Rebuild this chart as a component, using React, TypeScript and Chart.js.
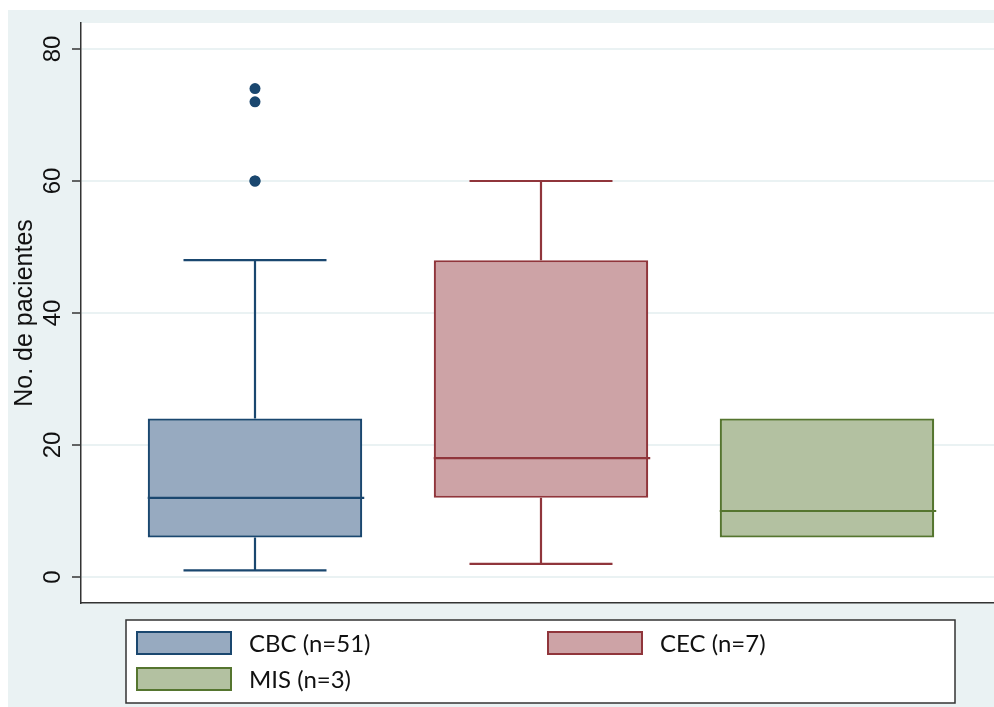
import React, { useEffect, useRef } from 'react';
import { Chart, registerables } from 'chart.js';

Chart.register(...registerables);

const groups = ['CBC (n=51)', 'CEC (n=7)', 'MIS (n=3)'];
const positions = [0, 1, 2];
const q1 = [6, 12, 6];
const medians = [12, 18, 10];
const q3 = [24, 48, 24];
const whiskerLow = [1, 2, 6];
const whiskerHigh = [48, 60, 24];
const outlierGroup = [0, 0, 0, 0];
const outlierValues = [60, 60, 72, 74];
const yTicks = [0, 20, 40, 60, 80];
const yTitle = 'No. de pacientes';
const lineColors = ['#1a476f', '#90353b', '#55752f'];
const fillColors = ['#97aac0', '#cda3a6', '#b3c1a1'];

const W = 994;
const H = 707;

const boxPlugin = {
  id: 'boxExtras',
  beforeDraw(chart: any) {
    const { ctx, chartArea: a, width, height } = chart;
    ctx.save();
    ctx.fillStyle = '#ffffff';
    ctx.fillRect(0, 0, width, height);
    ctx.fillStyle = '#eaf2f3';
    ctx.fillRect(8, 10, width - 8, height - 10);
    ctx.fillStyle = '#ffffff';
    ctx.fillRect(a.left, a.top, a.right - a.left, a.bottom - a.top);
    ctx.restore();
  },
  beforeDatasetsDraw(chart: any) {
    const { ctx } = chart;
    const meta = chart.getDatasetMeta(0);
    const ys = chart.scales.y;
    ctx.save();
    ctx.lineWidth = 2.2;
    meta.data.forEach((bar: any, i: number) => {
      const cx = bar.x;
      const w = bar.width;
      ctx.strokeStyle = lineColors[i];
      const segs: [number, number][] = [
        [q3[i], whiskerHigh[i]],
        [q1[i], whiskerLow[i]],
      ];
      segs.forEach(([from, to]) => {
        if (from === to) return;
        const p1 = ys.getPixelForValue(from);
        const p2 = ys.getPixelForValue(to);
        ctx.beginPath();
        ctx.moveTo(cx, p1);
        ctx.lineTo(cx, p2);
        ctx.moveTo(cx - w / 3, p2);
        ctx.lineTo(cx + w / 3, p2);
        ctx.stroke();
      });
    });
    ctx.restore();
  },
  afterDatasetsDraw(chart: any) {
    const { ctx } = chart;
    const meta = chart.getDatasetMeta(0);
    const ys = chart.scales.y;
    ctx.save();
    ctx.lineWidth = 2.2;
    meta.data.forEach((bar: any, i: number) => {
      const py = ys.getPixelForValue(medians[i]);
      ctx.strokeStyle = lineColors[i];
      ctx.beginPath();
      ctx.moveTo(bar.x - bar.width / 2, py);
      ctx.lineTo(bar.x + bar.width / 2 + 2, py);
      ctx.stroke();
    });
    ctx.restore();
  },
  afterDraw(chart: any) {
    const { ctx, chartArea: a } = chart;
    const ys = chart.scales.y;
    ctx.save();
    // tick labels
    ctx.fillStyle = '#111';
    ctx.font = '24px "Liberation Sans", Arial, sans-serif';
    ctx.textAlign = 'center';
    ctx.textBaseline = 'alphabetic';
    ys.ticks.forEach((t: any) => {
      const py = ys.getPixelForValue(t.value);
      ctx.save();
      ctx.translate(60, py);
      ctx.rotate(-Math.PI / 2);
      ctx.fillText(String(t.value), 0, 0);
      ctx.restore();
    });
    // axis title
    ctx.save();
    ctx.font = '25px "Liberation Sans", Arial, sans-serif';
    ctx.translate(32, (a.top + a.bottom) / 2);
    ctx.rotate(-Math.PI / 2);
    ctx.fillText(yTitle, 0, 0);
    ctx.restore();
    // legend
    const lx = 126, ly = 620, lw = 829, lh = 83;
    ctx.fillStyle = '#ffffff';
    ctx.fillRect(lx, ly, lw, lh);
    ctx.strokeStyle = '#333';
    ctx.lineWidth = 1.5;
    ctx.strokeRect(lx, ly, lw, lh);
    const slots = [
      [136, 631],
      [547, 631],
      [136, 667],
    ];
    ctx.font = '24px Lato, "Open Sans", sans-serif';
    ctx.textAlign = 'left';
    ctx.textBaseline = 'middle';
    groups.forEach((g, i) => {
      const [sx, sy] = slots[i];
      ctx.fillStyle = fillColors[i];
      ctx.fillRect(sx, sy, 96, 24);
      ctx.strokeStyle = lineColors[i];
      ctx.lineWidth = 2;
      ctx.strokeRect(sx + 1, sy + 1, 94, 22);
      ctx.fillStyle = '#111';
      ctx.fillText(g, sx + 113, sy + 13);
    });
    ctx.restore();
  },
};

export default function App() {
  const ref = useRef<HTMLCanvasElement | null>(null);
  useEffect(() => {
    if (!ref.current) return;
    const chart = new Chart(ref.current, {
      type: 'bar',
      data: {
        datasets: [
          {
            type: 'bar',
            label: 'boxes',
            data: positions.map((p, i) => ({ x: p, y: [q1[i], q3[i]] })) as any,
            backgroundColor: fillColors,
            borderColor: lineColors,
            borderWidth: 2.2,
            borderSkipped: false,
            barPercentage: 0.75,
            categoryPercentage: 1,
          },
          {
            type: 'scatter',
            label: 'outliers',
            data: outlierValues.map((v, i) => ({ x: positions[outlierGroup[i]], y: v })),
            backgroundColor: outlierGroup.map((g) => lineColors[g]),
            borderColor: outlierGroup.map((g) => lineColors[g]),
            pointRadius: 5.5,
            pointBorderWidth: 0,
          } as any,
        ],
      },
      options: {
        animation: false,
        responsive: false,
        layout: { autoPadding: false, padding: { left: 8, top: 23, right: 0, bottom: 0 } },
        plugins: { legend: { display: false }, tooltip: { enabled: false } },
        scales: {
          x: {
            type: 'linear',
            min: -0.6084,
            max: 2.584,
            offset: false,
            afterBuildTicks: (s: any) => {
              s.ticks = positions.map((v) => ({ value: v }));
            },
            afterFit: (s: any) => {
              s.height = 104;
            },
            ticks: { display: false },
            grid: { display: false, offset: false },
            border: { display: true, color: '#333', width: 1.5 },
          },
          y: {
            type: 'linear',
            min: -3.94,
            max: 83.94,
            afterBuildTicks: (s: any) => {
              s.ticks = yTicks.map((v) => ({ value: v }));
            },
            afterFit: (s: any) => {
              s.width = 73;
            },
            ticks: { display: false },
            grid: {
              color: '#eaf2f3',
              lineWidth: 2,
              drawTicks: true,
              tickLength: 9,
              tickColor: '#333',
              tickWidth: 1.5,
            },
            border: { display: true, color: '#333', width: 1.5 },
          },
        },
      } as any,
      plugins: [boxPlugin],
    });
    return () => chart.destroy();
  }, []);
  return (
    <div style={{ position: 'fixed', left: 0, top: 0, width: W, height: H }}>
      <canvas ref={ref} width={W} height={H} style={{ width: W, height: H, display: 'block' }} />
    </div>
  );
}
